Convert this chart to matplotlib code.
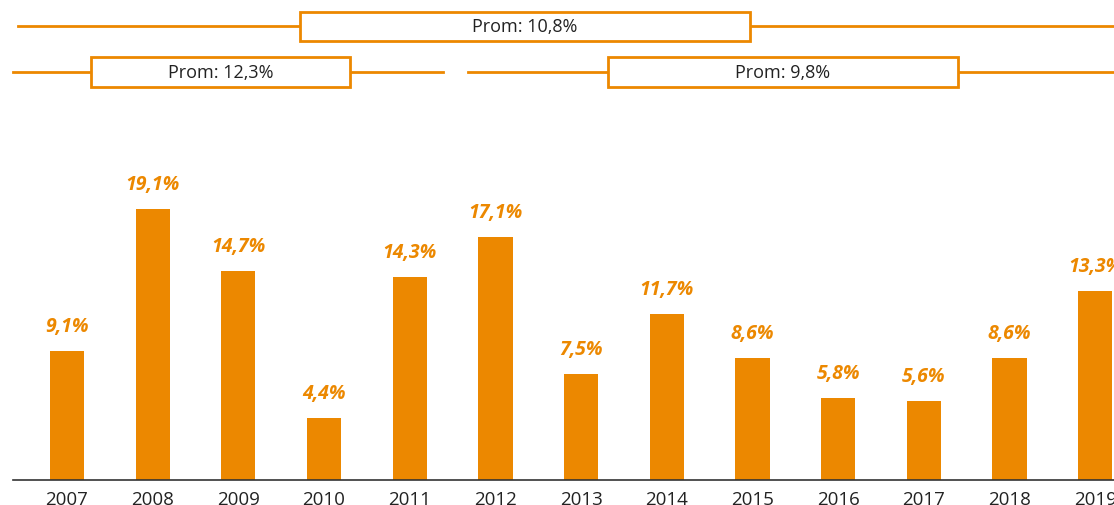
import matplotlib
matplotlib.use("Agg")
import matplotlib.pyplot as plt
from matplotlib.patches import Rectangle
from matplotlib.lines import Line2D

years = ["2007", "2008", "2009", "2010", "2011", "2012", "2013",
         "2014", "2015", "2016", "2017", "2018", "2019"]
growth = [9.1, 19.1, 14.7, 4.4, 14.3, 17.1, 7.5, 11.7, 8.6, 5.8, 5.6, 8.6, 13.3]

# periods for the averages (index ranges, inclusive start / exclusive end)
period_all = (0, 13)
period_a = (0, 5)
period_b = (5, 13)

ORANGE = "#EC8800"
TEXT = "#222222"

plt.rcParams["font.family"] = ["Open Sans", "DejaVu Sans"]

W, H = 1114, 506
fig = plt.figure(figsize=(W / 100, H / 100), dpi=100)
ax = fig.add_axes([13 / W, 25 / H, (W - 13) / W, 481 / H])

x = list(range(len(years)))
ax.bar(x, growth, width=0.4, color=ORANGE, zorder=2)
ax.set_xlim(-0.63, 12.22)
ax.set_ylim(0, 33.9)

for xi, v in zip(x, growth):
    ax.annotate(f"{v:.1f}".replace(".", ",") + "%", (xi, v),
                xytext=(0, 14.4), textcoords="offset points",
                ha="center", va="baseline", color=ORANGE,
                fontsize=14, fontweight="bold", fontstyle="italic",
                annotation_clip=False)

ax.set_xticks(x)
ax.set_xticklabels(years, fontsize=13.5, color=TEXT)
ax.tick_params(axis="x", length=0, pad=7)
ax.set_yticks([])
for s in ["top", "right", "left"]:
    ax.spines[s].set_visible(False)
ax.spines["bottom"].set_color("#333333")
ax.spines["bottom"].set_linewidth(1.2)

trans = ax.get_xaxis_transform()


def avg(rng):
    vals = growth[rng[0]:rng[1]]
    return sum(vals) / len(vals)


def band(x0, x1, y, box_x0, box_x1, box_h, value):
    ax.add_line(Line2D([x0, x1], [y, y], transform=trans, color=ORANGE,
                       lw=2, clip_on=False, zorder=3))
    ax.add_patch(Rectangle((box_x0, y - box_h / 2), box_x1 - box_x0, box_h,
                           transform=trans, facecolor="white",
                           edgecolor=ORANGE, lw=2, clip_on=False, zorder=4))
    label = "Prom: " + f"{value:.1f}".replace(".", ",") + "%"
    ax.text((box_x0 + box_x1) / 2, y, label, transform=trans,
            ha="center", va="center", fontsize=13, color=TEXT, zorder=5)


band(-0.57, 12.4, 0.943, 2.72, 7.97, 0.06, avg(period_all))
band(-0.63, 4.39, 0.849, 0.28, 3.30, 0.062, avg(period_a))
band(4.68, 12.4, 0.849, 6.31, 10.40, 0.062, avg(period_b))

fig.savefig("out.png", dpi=100)
